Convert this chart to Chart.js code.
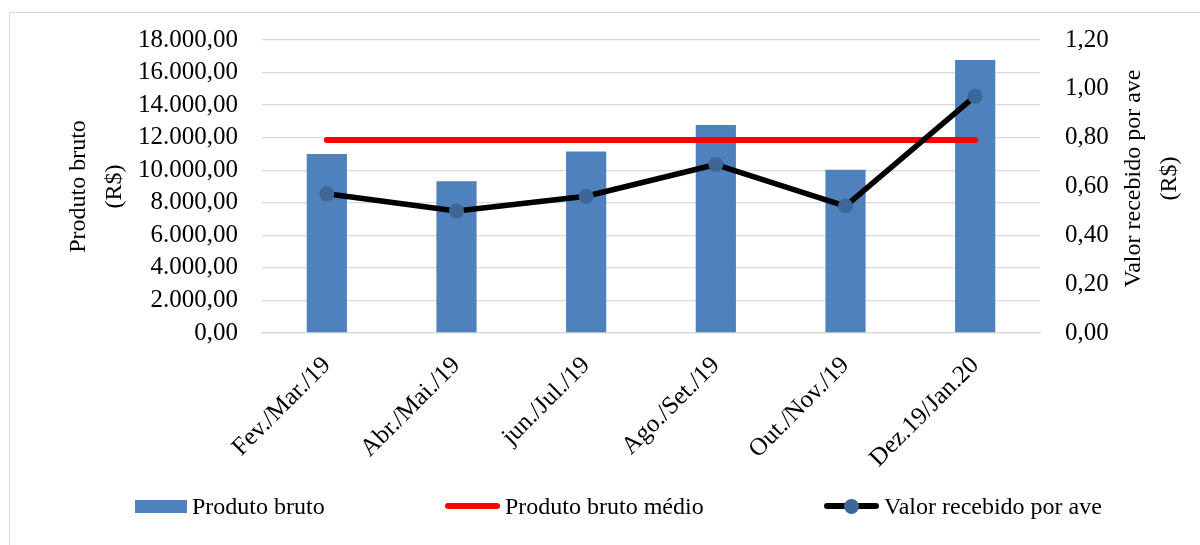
<!DOCTYPE html>
<html lang="pt-BR">
<head>
<meta charset="utf-8">
<title>Produto bruto e valor recebido por ave</title>
<script src="https://cdn.jsdelivr.net/npm/chart.js@4.4.1/dist/chart.umd.min.js"></script>
<style>
  html, body { margin: 0; padding: 0; background: #fff; }
  #wrap { position: relative; width: 1200px; height: 545px; overflow: hidden; }
  #frame { position: absolute; left: 9px; top: 12px; width: 1300px; height: 700px;
           border: 1px solid #d9d9d9; box-sizing: border-box; }
  #chart { position: absolute; left: 0; top: 0; }
  #legend { position: absolute; left: 0; top: 494px; width: 1200px; height: 24px;
            font-family: 'Liberation Serif', 'Times New Roman', serif; font-size: 24px; color: #000; }
  .item { position: absolute; top: 0; height: 24px; line-height: 24px; display: flex;
          align-items: center; white-space: nowrap; }
  .icon { position: relative; display: inline-block; margin-right: 5px; }
  .dot { position: absolute; left: 50%; top: 50%; width: 15px; height: 15px;
         margin: -7.5px 0 0 -7.5px; border-radius: 50%; }
</style>
</head>
<body>
<div id="wrap">
  <div id="frame"></div>
  <canvas id="chart" width="1200" height="545"></canvas>
  <div id="legend"></div>
</div>
<script>
// Bimonthly periods
const categories = ['Fev./Mar./19', 'Abr./Mai./19', 'jun./Jul./19', 'Ago./Set./19', 'Out./Nov./19', 'Dez.19/Jan.20'];
// Gross product per period (R$)
const produtoBruto = [11000, 9330, 11150, 12780, 10030, 16770];
// Average gross product over the periods (R$)
const produtoBrutoMedio = [11850, 11850, 11850, 11850, 11850, 11850];
// Amount received per bird (R$)
const valorPorAve = [0.57, 0.50, 0.56, 0.69, 0.52, 0.97];
// Axis tick values
const leftTicks = [0, 2000, 4000, 6000, 8000, 10000, 12000, 14000, 16000, 18000];
const rightTicks = [0, 0.2, 0.4, 0.6, 0.8, 1.0, 1.2];

const SERIF = "'Liberation Serif', 'Times New Roman', serif";
Chart.defaults.font.family = SERIF;
Chart.defaults.color = '#000';

// Brazilian number format: 18.000,00
function formatBR(v) {
  const parts = Math.abs(v).toFixed(2).split('.');
  return parts[0].replace(/\B(?=(\d{3})+(?!\d))/g, '.') + ',' + parts[1];
}

// Secondary axis title, rotated to read bottom-to-top like the primary one
const rightAxisTitle = {
  id: 'rightAxisTitle',
  afterDraw(chart, args, opts) {
    const s = chart.scales[opts.axis];
    const ctx = chart.ctx;
    ctx.save();
    ctx.font = opts.size + 'px ' + SERIF;
    ctx.fillStyle = '#000';
    ctx.textAlign = 'center';
    ctx.textBaseline = 'middle';
    ctx.translate(s.left + opts.offset, (s.top + s.bottom) / 2 - 8);
    ctx.rotate(-Math.PI / 2);
    opts.text.forEach((line, i) => ctx.fillText(line, 0, i * opts.lineHeight));
    ctx.restore();
  }
};

const chart = new Chart(document.getElementById('chart'), {
  type: 'bar',
  data: {
    labels: categories,
    datasets: [
      {
        type: 'bar',
        label: 'Produto bruto',
        data: produtoBruto,
        backgroundColor: '#4f81bd',
        yAxisID: 'y',
        order: 3,
        barPercentage: 0.31,
        categoryPercentage: 1
      },
      {
        type: 'line',
        label: 'Produto bruto médio',
        data: produtoBrutoMedio,
        borderColor: '#ff0000',
        backgroundColor: '#ff0000',
        borderWidth: 6,
        borderCapStyle: 'round',
        pointRadius: 0,
        tension: 0,
        yAxisID: 'y',
        order: 2
      },
      {
        type: 'line',
        label: 'Valor recebido por ave',
        data: valorPorAve,
        borderColor: '#000000',
        borderWidth: 5.5,
        borderJoinStyle: 'round',
        pointRadius: 7.5,
        pointBackgroundColor: '#3e6798',
        pointBorderColor: '#3e6798',
        pointBorderWidth: 0,
        tension: 0,
        yAxisID: 'y1',
        order: 1
      }
    ]
  },
  options: {
    responsive: false,
    animation: false,
    devicePixelRatio: 1,
    layout: { padding: { top: 40, left: 0, right: 0, bottom: 0 } },
    plugins: {
      legend: { display: false },
      tooltip: { enabled: false },
      rightAxisTitle: { axis: 'y1', text: ['Valor recebido por ave', '(R$)'], size: 24, lineHeight: 36, offset: 94 }
    },
    scales: {
      x: {
        grid: { display: false, drawTicks: false },
        border: { display: true, color: '#d9d9d9', width: 1.3 },
        ticks: { font: { size: 25 }, color: '#000', minRotation: 45, maxRotation: 45, padding: 18, autoSkip: false },
        afterFit(s) { s.height = 212; }
      },
      y: {
        position: 'left',
        min: 0,
        max: 18000,
        grid: { color: '#d9d9d9', lineWidth: 1.3, drawTicks: false },
        border: { display: false },
        ticks: { font: { size: 25 }, color: '#000', padding: 24, autoSkip: false, callback: v => formatBR(v) },
        title: {
          display: true,
          text: ['Produto bruto', '(R$)'],
          font: { size: 24, lineHeight: 1.5 },
          color: '#000',
          padding: { top: 61, bottom: 0 }
        },
        afterBuildTicks(s) { s.ticks = leftTicks.map(v => ({ value: v })); },
        afterFit(s) { s.width = 262; }
      },
      y1: {
        position: 'right',
        min: 0,
        max: 1.2,
        grid: { display: false, drawTicks: false },
        border: { display: false },
        ticks: { font: { size: 25 }, color: '#000', padding: 25, autoSkip: false, callback: v => formatBR(v) },
        afterBuildTicks(s) { s.ticks = rightTicks.map(v => ({ value: v })); },
        afterFit(s) { s.width = 160; }
      }
    }
  },
  plugins: [rightAxisTitle]
});

// HTML legend built from the chart's datasets
(function buildLegend() {
  const el = document.getElementById('legend');
  const lefts = [135, 445, 824];
  chart.data.datasets.forEach((ds, i) => {
    const item = document.createElement('div');
    item.className = 'item';
    item.style.left = lefts[i] + 'px';
    const icon = document.createElement('span');
    icon.className = 'icon';
    if (ds.type === 'bar') {
      icon.style.width = '52px';
      icon.style.height = '13px';
      icon.style.background = ds.backgroundColor;
    } else {
      icon.style.width = '55px';
      icon.style.height = '6px';
      icon.style.borderRadius = '3px';
      icon.style.background = ds.borderColor;
      if (ds.pointRadius > 0) {
        const dot = document.createElement('span');
        dot.className = 'dot';
        dot.style.background = ds.pointBackgroundColor;
        icon.appendChild(dot);
      }
    }
    const label = document.createElement('span');
    label.textContent = ds.label;
    item.appendChild(icon);
    item.appendChild(label);
    el.appendChild(item);
  });
})();
</script>
</body>
</html>
